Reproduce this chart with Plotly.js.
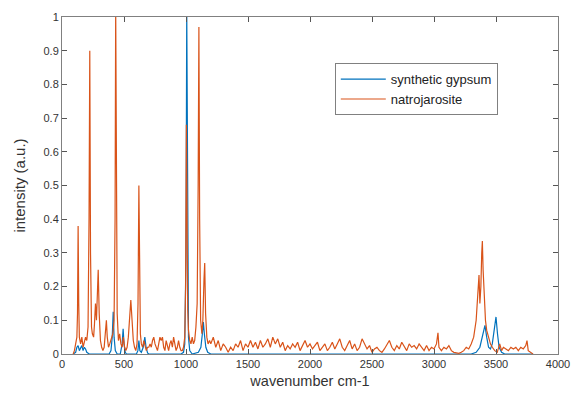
<!DOCTYPE html>
<html>
<head>
<meta charset="utf-8">
<script src="https://cdn.plot.ly/plotly-3.0.1.min.js"></script>
<style>html,body{margin:0;padding:0;background:#fff;}#chart{width:575px;height:396px;}</style>
</head>
<body>
<div id="chart"></div>
<script>
// synthetic gypsum (blue)
const gypsumX = [90,110,120,130,140,150,160,170,180,190,200,220,300,380,395,405,413,420,430,445,470,485,493,500,510,520,600,612,620,628,640,655,668,678,690,700,960,980,990,1000,1006,1012,1020,1030,1050,1100,1120,1132,1140,1148,1160,1175,1200,3300,3340,3370,3395,3411,3425,3440,3455,3470,3485,3500,3512,3525,3545,3570,3800];
const gypsumY = [0,0.005,0.02,0.025,0.01,0.02,0.025,0.01,0.02,0.015,0.005,0,0,0,0.01,0.05,0.125,0.05,0.01,0,0,0.03,0.075,0.03,0.005,0,0,0.01,0.04,0.01,0.005,0.02,0.05,0.02,0.003,0,0,0.005,0.03,0.3,1.02,0.3,0.05,0.01,0,0.005,0.02,0.06,0.095,0.06,0.02,0.005,0,0,0.005,0.02,0.06,0.085,0.05,0.02,0.015,0.03,0.07,0.11,0.06,0.02,0.005,0,0];

// natrojarosite (orange)
const natroX = [90,100,110,120,125,130,135,140,150,160,170,180,190,200,210,218,224,230,238,245,255,262,270,278,285,292,300,310,320,330,340,350,358,365,375,385,395,410,420,428,433,438,445,455,465,475,485,495,505,515,525,535,545,555,565,575,585,595,605,613,620,626,632,640,650,660,670,680,690,700,710,720,730,740,750,760,770,780,790,800,810,820,830,840,850,860,870,880,890,900,910,920,930,940,950,960,970,980,990,997,1003,1008,1014,1020,1030,1040,1050,1060,1070,1080,1090,1098,1104,1110,1118,1128,1136,1145,1151,1158,1168,1178,1190,
1200,1220,1240,1260,1280,1300,1320,1340,1360,1380,1400,1420,1440,1460,1480,1500,1520,1540,1560,1580,1600,1620,1640,1660,1680,1700,1720,1740,1760,1780,1800,1820,1840,1860,1880,1900,1920,1940,1960,1980,2000,2020,2040,2060,2080,2100,2120,2140,2160,2180,2200,2220,2240,2260,2280,2300,2320,2340,2360,2380,2400,2420,2440,2460,2480,2500,2520,2540,2560,2580,2600,2620,2640,2660,2680,2700,2720,2740,2760,2780,2800,2820,2840,2860,2880,2900,2920,2940,2960,2980,3000,3020,3032,3040,3060,3080,3100,3120,3140,3160,3180,3200,3220,3240,3260,3280,3300,3320,3340,3355,3363,3370,3378,3385,3390,3396,3405,3415,3425,3440,3455,3470,3490,3510,3530,3545,3560,3580,3600,3620,3640,3660,3680,3700,3720,3740,3750,3760,3780,3798];
const natroY = [0,0.01,0.03,0.05,0.12,0.38,0.15,0.05,0.03,0.05,0.02,0.04,0.05,0.04,0.08,0.4,0.9,0.3,0.08,0.06,0.05,0.09,0.15,0.1,0.18,0.25,0.12,0.04,0.02,0.01,0.02,0.06,0.1,0.05,0.02,0.03,0.04,0.06,0.1,0.4,1.03,0.5,0.12,0.04,0.06,0.03,0.02,0.05,0.02,0.01,0.02,0.05,0.1,0.16,0.1,0.04,0.02,0.01,0.03,0.15,0.5,0.15,0.06,0.03,0.02,0.04,0.02,0.01,0.02,0.02,0.03,0.02,0.04,0.05,0.03,0.02,0.01,0.03,0.05,0.04,0.05,0.02,0.01,0.04,0.02,0.01,0.03,0.04,0.02,0.05,0.03,0.01,0.02,0.04,0.02,0.01,0.01,0.02,0.05,0.2,0.68,0.3,0.13,0.07,0.04,0.03,0.05,0.03,0.04,0.08,0.15,0.5,0.97,0.4,0.1,0.06,0.1,0.22,0.27,0.12,0.05,0.03,0.04,
0.03,0.05,0.02,0.04,0.01,0.03,0.02,0.005,0.02,0.01,0.03,0.02,0.04,0.01,0.03,0.02,0.04,0.02,0.035,0.015,0.04,0.02,0.03,0.045,0.02,0.05,0.03,0.045,0.02,0.035,0.01,0.025,0.015,0.03,0.02,0.035,0.01,0.025,0.04,0.02,0.03,0.015,0.025,0.035,0.01,0.02,0.03,0.01,0.02,0.035,0.015,0.03,0.045,0.02,0.01,0.025,0.04,0.015,0.03,0.01,0.02,0.045,0.03,0.015,0.025,0.005,0.015,0.02,0.01,0.005,0.015,0.03,0.04,0.02,0.01,0.025,0.015,0.035,0.02,0.01,0.03,0.02,0.025,0.015,0.03,0.02,0.01,0.025,0.01,0.02,0.015,0.03,0.063,0.02,0.01,0.02,0.015,0.025,0.01,0.005,0.003,0.002,0.005,0.01,0.02,0.015,0.03,0.05,0.1,0.18,0.234,0.15,0.2,0.3,0.335,0.25,0.15,0.1,0.07,0.05,0.03,0.02,0.01,0.005,0.03,0.01,0.02,0.015,0.01,0.02,0.015,0.02,0.01,0.02,0.015,0.025,0.04,0.01,0.005,0];

const seriesNames = ['synthetic gypsum', 'natrojarosite'];
const xTickVals = [0,500,1000,1500,2000,2500,3000,3500,4000];
const yTickVals = [0,0.1,0.2,0.3,0.4,0.5,0.6,0.7,0.8,0.9,1];

const traces = [
  {x: gypsumX, y: gypsumY, name: seriesNames[0], type: 'scatter', mode: 'lines',
   line: {color: '#0072BD', width: 1.2}},
  {x: natroX, y: natroY, name: seriesNames[1], type: 'scatter', mode: 'lines',
   line: {color: '#D95319', width: 1.2}}
];

const axisCommon = {
  showgrid: false, zeroline: false, showline: true, linecolor: '#808080', linewidth: 1,
  mirror: 'ticks', ticks: 'inside', ticklen: 5, tickcolor: '#555', tickwidth: 1,
  tickfont: {family: 'Liberation Sans, Arial, sans-serif', size: 11, color: '#333'}
};

const layout = {
  width: 575, height: 396,
  margin: {l: 62, r: 17, t: 17, b: 42},
  paper_bgcolor: '#fff', plot_bgcolor: '#fff',
  showlegend: true,
  legend: {x: 0.55, y: 0.863, xanchor: 'left', yanchor: 'top',
    bgcolor: '#fff', bordercolor: '#808080', borderwidth: 1,
    font: {family: 'Liberation Sans, Arial, sans-serif', size: 13, color: '#222'},
    itemwidth: 45, tracegroupgap: 0},
  xaxis: Object.assign({}, axisCommon, {range: [0, 4000], tickvals: xTickVals,
    title: {text: 'wavenumber cm-1', standoff: 6,
      font: {family: 'Liberation Sans, Arial, sans-serif', size: 14.5, color: '#333'}}}),
  yaxis: Object.assign({}, axisCommon, {range: [0, 1], tickvals: yTickVals,
    title: {text: 'intensity (a.u.)', standoff: 14,
      font: {family: 'Liberation Sans, Arial, sans-serif', size: 15, color: '#333'}}})
};

Plotly.newPlot('chart', traces, layout, {displayModeBar: false, staticPlot: true});
</script>
</body>
</html>
